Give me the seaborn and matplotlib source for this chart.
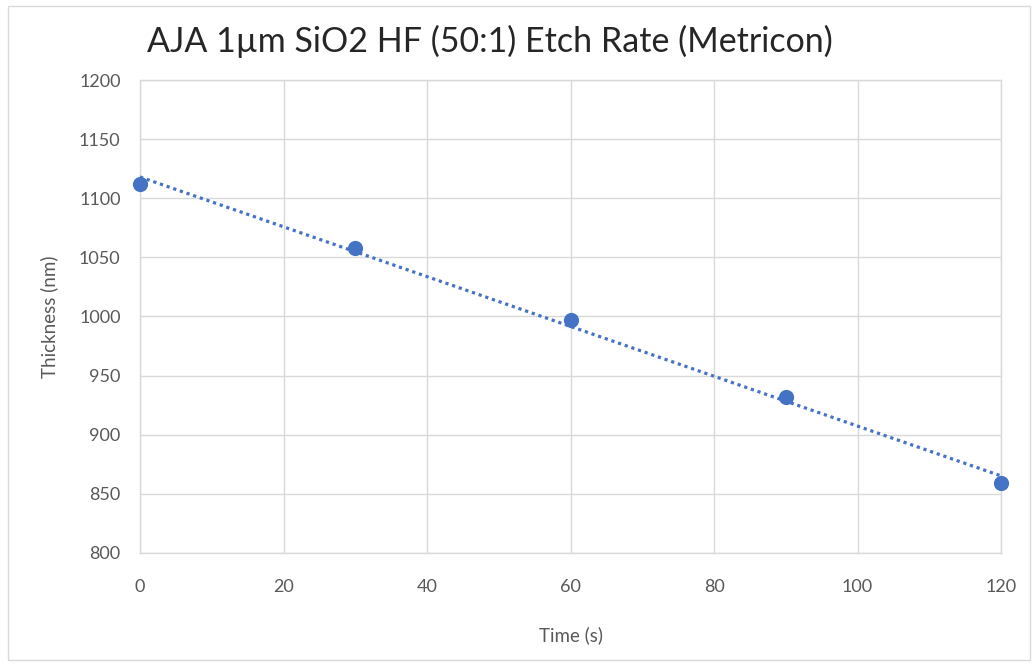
import matplotlib
matplotlib.use("Agg")
import matplotlib.pyplot as plt
from matplotlib.patches import Rectangle
import seaborn as sns
import pandas as pd

# Etch time (s) and remaining oxide thickness (nm)
time_s = [0, 30, 60, 90, 120]
thickness_nm = [1112, 1058, 997, 932, 859]

x_ticks = [0, 20, 40, 60, 80, 100, 120]
y_ticks = [800, 850, 900, 950, 1000, 1050, 1100, 1150, 1200]

sns.set_theme(style="white")
plt.rcParams["font.family"] = ["Lato", "DejaVu Sans"]

df = pd.DataFrame({"Time (s)": time_s, "Thickness (nm)": thickness_nm})

blue = "#4472C4"
grid = "#D9D9D9"
text_col = "#595959"

fig = plt.figure(figsize=(10.35, 6.64), dpi=100)
ax = fig.add_axes([0.1353, 0.1672, 0.9672 - 0.1353, 0.8795 - 0.1672])

# chart-area border
fig.patches.append(Rectangle((0.008, 0.006), 0.987, 0.985, transform=fig.transFigure,
                             fill=False, edgecolor="#D9D9D9", linewidth=1.0))

sns.regplot(data=df, x="Time (s)", y="Thickness (nm)", ax=ax, ci=None,
            scatter_kws=dict(s=120, color=blue, edgecolor=blue, linewidths=0,
                             alpha=1.0, zorder=4),
            line_kws=dict(color=blue, linestyle=(0, (1, 1.2)), linewidth=2.3, zorder=3))

ax.set_xlim(0, 120)
ax.set_ylim(800, 1200)
ax.set_xticks(x_ticks)
ax.set_yticks(y_ticks)
ax.grid(True, color=grid, linewidth=1.0)
ax.set_axisbelow(True)
for s in ax.spines.values():
    s.set_color(grid)
    s.set_linewidth(1.0)
for c in ax.collections:
    c.set_clip_on(False)
for l in ax.lines:
    l.set_clip_on(False)

ax.tick_params(axis="both", length=0, labelsize=13, labelcolor=text_col)
ax.tick_params(axis="x", pad=19)
ax.tick_params(axis="y", pad=14)

ax.set_xlabel("Time (s)", fontsize=13.5, color=text_col, labelpad=22)
ax.set_ylabel("Thickness (nm)", fontsize=13.5, color=text_col, labelpad=15)

fig.text(0.142, 0.937, "AJA 1µm SiO2 HF (50:1) Etch Rate (Metricon)",
         fontsize=24.5, color="#262626", ha="left", va="center")

fig.savefig("out.png", dpi=100, facecolor="white")
